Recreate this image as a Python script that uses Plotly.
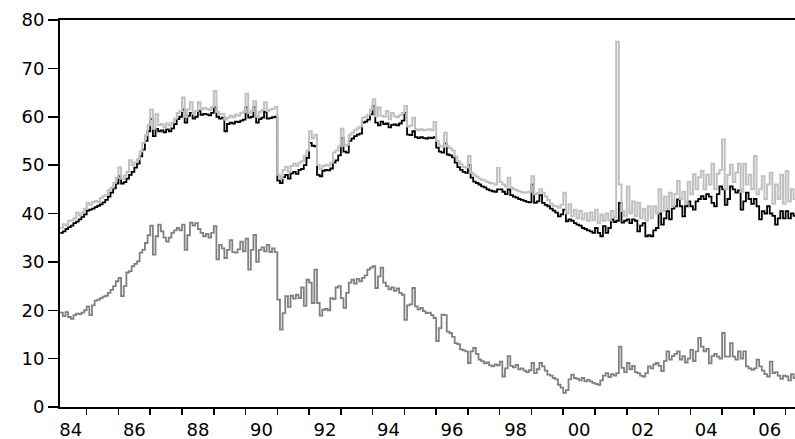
import plotly.graph_objects as go

# Monthly observations, starting March 1984
START_YEAR = 1984
START_MONTH = 3

upper_black = [
    36.0, 36.3, 36.8, 37.2, 37.5, 38.0, 38.3, 38.8, 39.3, 39.8,                  # 1984
    40.6, 40.8, 41.0, 41.3, 41.6, 41.9, 42.3, 42.8, 43.5, 44.3, 45.2, 46.2,      # 1985
    47.7, 46.2, 46.5, 47.2, 48.0, 48.6, 49.5, 50.3, 51.8, 53.2, 55.0, 57.0,      # 1986
    59.5, 56.0, 57.5, 57.0, 57.2, 56.8, 57.4, 57.0, 57.6, 58.5, 59.5, 60.0,      # 1987
    61.5, 58.8, 60.2, 60.8, 59.6, 60.0, 61.2, 60.4, 60.6, 60.5, 60.3, 60.8,      # 1988
    62.0, 60.0, 59.6, 59.8, 57.0, 58.5, 58.8, 58.6, 59.0, 58.9, 59.2, 59.4,      # 1989
    62.0, 59.8, 60.0, 62.0, 58.8, 59.5, 59.8, 61.0, 59.6, 59.7, 59.9, 60.0,      # 1990
    46.8, 46.3, 47.5, 48.0, 47.2, 48.3, 48.6, 48.2, 49.0, 49.2, 50.0, 51.5,      # 1991
    54.6, 54.0, 53.9, 48.0, 47.7, 48.8, 49.0, 48.9, 49.3, 50.5, 51.0, 52.0,      # 1992
    55.6, 52.8, 52.6, 55.0, 55.5, 56.0, 56.3, 56.5, 58.8, 59.0, 59.4, 60.5,      # 1993
    62.2, 58.8, 58.2, 59.0, 58.5, 58.6, 57.8, 58.3, 58.4, 58.2, 58.6, 59.2,      # 1994
    60.8, 56.3, 56.2, 57.0, 55.8, 55.6, 55.8, 55.6, 55.5, 55.7, 55.6, 55.8,      # 1995
    53.6, 52.8, 52.6, 54.5, 52.2, 52.0, 51.6, 50.5, 49.6, 49.0, 48.6, 48.4,      # 1996
    50.0, 47.4, 46.6, 46.3, 46.0, 45.6, 45.4, 45.0, 44.8, 44.6, 44.5, 45.0,      # 1997
    45.0, 44.5, 44.0, 45.0, 43.8, 43.5, 43.3, 43.0, 42.8, 42.6, 42.4, 42.3,      # 1998
    46.0, 42.2, 42.5, 43.8, 42.2, 41.8, 41.5, 41.0, 40.6, 40.2, 39.4, 39.8,      # 1999
    40.8, 38.4, 38.8, 38.5, 38.0, 37.7, 37.5, 37.0, 36.8, 36.5, 36.3, 36.0,      # 2000
    37.0, 36.0, 35.3, 37.4, 36.0, 37.0, 38.8, 38.2, 38.5, 42.2, 38.1, 38.5,      # 2001
    38.8, 38.0, 38.8, 38.5, 36.3, 37.5, 38.0, 35.3, 35.5, 35.3, 36.5, 37.0,      # 2002
    40.0, 37.7, 39.0, 40.5, 38.8, 41.0, 41.5, 42.9, 41.5, 39.4, 41.5, 42.5,      # 2003
    41.5, 40.8, 42.5, 43.0, 43.6, 43.0, 44.0, 43.5, 42.2, 41.5, 44.0, 45.6,      # 2004
    45.0, 41.8, 43.0, 45.6, 45.0, 44.3, 44.8, 40.8, 42.5, 44.3, 43.0, 42.0,      # 2005
    43.0, 41.5, 38.8, 40.5, 40.0, 41.5, 40.0, 39.5, 37.7, 39.0, 40.5, 39.0,      # 2006
    40.5, 39.0, 40.0, 39.5, 39.2,                                                # 2007
]

upper_gray = [
    37.0, 37.8, 37.5, 38.5, 38.6, 39.0, 40.2, 39.6, 40.2, 41.0,                  # 1984
    42.2, 41.8, 42.3, 42.6, 42.4, 43.2, 43.6, 43.8, 44.8, 45.3, 46.3, 47.4,      # 1985
    49.5, 47.2, 47.8, 48.6, 51.0, 50.0, 50.6, 51.2, 52.8, 54.6, 56.2, 58.3,      # 1986
    61.5, 57.5, 60.5, 58.3, 58.5, 57.8, 58.6, 58.2, 58.8, 59.6, 60.8, 61.2,      # 1987
    64.0, 60.0, 61.5, 63.0, 60.6, 61.2, 63.0, 61.5, 61.8, 61.6, 61.4, 62.0,      # 1988
    65.3, 61.0, 60.5, 60.6, 59.4, 59.8, 60.2, 59.9, 60.4, 60.2, 60.8, 61.0,      # 1989
    64.8, 60.8, 61.2, 63.2, 60.0, 61.0, 61.4, 63.0, 61.2, 61.5, 61.6, 62.0,      # 1990
    48.0, 47.3, 49.0, 49.6, 48.6, 49.8, 50.3, 49.8, 50.5, 50.8, 51.9, 53.0,      # 1991
    57.0, 55.5, 56.3, 50.0, 49.2, 49.8, 50.0, 49.9, 50.5, 52.6, 53.0, 53.9,      # 1992
    57.5, 54.0, 54.2, 56.3, 56.7, 57.2, 57.6, 58.0, 59.8, 60.0, 60.4, 61.5,      # 1993
    63.6, 60.1, 61.9, 60.2, 60.0, 61.2, 59.5, 60.8, 60.1, 59.9, 60.3, 60.8,      # 1994
    62.2, 58.0, 58.2, 59.8, 57.4, 57.2, 57.4, 57.2, 57.3, 57.4, 57.2, 58.9,      # 1995
    55.0, 54.0, 53.8, 56.7, 53.9, 53.5, 53.0, 51.8, 50.8, 50.2, 49.6, 49.5,      # 1996
    51.9, 48.4, 48.0, 47.6, 47.2, 47.0, 46.8, 46.5, 46.3, 46.2, 46.0, 49.4,      # 1997
    46.5, 46.0, 45.6, 47.4, 45.4, 45.0, 44.8, 44.6, 44.4, 44.3, 44.4, 44.5,      # 1998
    47.7, 44.0, 44.2, 45.0, 44.3, 43.5, 42.8, 42.0, 41.6, 41.5, 41.2, 41.8,      # 1999
    44.3, 40.0, 41.9, 39.5, 40.8, 39.0, 40.5, 38.8, 40.0, 38.5, 40.2, 38.6,      # 2000
    40.8, 38.0, 39.8, 38.5, 40.0, 38.6, 40.5, 39.2, 75.5, 46.0, 40.5, 39.5,      # 2001
    45.6, 40.0, 42.5, 39.5, 42.2, 39.0, 41.0, 38.5, 41.5, 39.0, 41.5, 40.0,      # 2002
    45.0, 40.5, 43.5, 41.0, 44.3, 41.5, 44.0, 46.7, 43.0, 44.5, 42.0, 46.5,      # 2003
    44.0, 48.1, 45.0, 47.5, 48.8, 45.0, 48.0, 46.0, 50.3, 45.0, 48.2, 49.0,      # 2004
    55.3, 45.0, 48.0, 50.1, 46.5, 48.5, 50.3, 44.5, 50.3, 46.0, 48.0, 45.0,      # 2005
    51.9, 44.0, 45.0, 47.7, 43.0, 46.0, 48.4, 42.0, 46.0, 43.0, 48.0, 42.0,      # 2006
    48.8, 42.5, 45.0, 43.0, 44.0,                                                # 2007
]

lower_series = [
    19.5, 18.8, 19.6, 18.6, 18.2, 19.0, 19.3, 19.2, 19.5, 20.0,                  # 1984
    20.8, 19.0, 21.0, 22.0, 22.2, 22.5, 22.8, 23.0, 23.6, 24.2, 25.0, 26.0,      # 1985
    26.7, 22.9, 25.0, 27.8, 28.1, 29.1, 29.6, 30.1, 31.9, 32.5, 33.9, 35.5,      # 1986
    37.5, 31.5, 35.3, 37.7, 36.3, 35.0, 34.2, 35.0, 36.0, 36.5, 37.0, 36.5,      # 1987
    37.7, 32.5, 35.5, 38.1, 37.5, 38.0, 36.8, 36.0, 35.3, 35.8, 35.0, 36.0,      # 1988
    37.4, 30.5, 33.5, 32.8, 30.8, 32.5, 34.5, 32.0, 31.9, 32.6, 34.2, 32.2,      # 1989
    34.8, 28.4, 32.5, 35.6, 30.0, 32.5, 33.0, 32.2, 33.5, 32.0, 32.8, 32.0,      # 1990
    22.2, 16.0, 19.4, 22.9, 20.7, 23.0, 22.4, 23.2, 22.5, 24.7, 20.9, 26.3,      # 1991
    25.7, 21.5, 28.4, 21.5, 18.9, 20.1, 20.3, 20.0, 22.5, 22.3, 24.7, 25.0,      # 1992
    22.5, 20.5, 23.6, 25.7, 26.3, 25.5, 26.5, 26.0, 26.7, 27.2, 28.4, 28.8,      # 1993
    29.1, 24.6, 27.0, 28.8, 25.7, 25.0, 24.3, 24.7, 24.0, 24.5, 23.6, 23.2,      # 1994
    18.0, 21.0, 21.2, 24.6, 20.8, 20.2, 20.5, 19.8, 19.4, 19.5, 19.0, 18.4,      # 1995
    13.6, 16.3, 19.1, 19.0, 15.6, 15.3, 14.5, 13.2, 13.0, 11.9, 11.7, 11.5,      # 1996
    9.1, 11.5, 12.2, 11.0, 9.8, 9.5, 9.0, 9.2, 8.6, 8.4, 8.8, 8.6,               # 1997
    9.4, 6.3, 8.0, 10.5, 8.5, 8.2, 8.7, 7.8, 8.0, 7.5, 7.2, 7.6,                 # 1998
    9.1, 7.0, 7.8, 9.1, 8.4, 7.5, 6.7, 6.5, 6.0, 5.7, 4.6, 4.0,                  # 1999
    2.9, 3.5, 5.7, 6.7, 6.0, 5.8, 5.5, 6.0, 5.3, 5.6, 5.3, 5.0,                  # 2000
    4.8, 4.6, 5.5, 6.5, 7.0, 6.2, 6.8, 6.5, 7.0, 12.5, 8.1, 7.2,                 # 2001
    9.1, 7.8, 8.5, 7.2, 7.0, 6.5, 6.3, 7.0, 8.4, 8.0, 8.8, 9.1,                  # 2002
    8.5, 7.4, 9.5, 11.5, 9.8, 10.5, 11.0, 11.5, 9.8, 10.5, 9.2, 10.0,            # 2003
    11.8, 9.5, 11.5, 14.3, 12.5, 11.5, 12.0, 9.0, 10.5, 11.0, 10.4, 10.0,        # 2004
    15.3, 10.4, 10.4, 13.2, 10.4, 9.8, 11.5, 10.0, 11.5, 8.4, 8.0, 7.7,          # 2005
    8.0, 9.8, 8.4, 7.5, 6.8, 6.3, 9.4, 7.0, 7.2, 6.5, 5.8, 6.5,                  # 2006
    6.3, 5.5, 6.8, 6.0, 6.0,                                                     # 2007
]

year_labels = ["84", "86", "88", "90", "92", "94", "96", "98", "00", "02", "04", "06"]
label_years = [1984, 1986, 1988, 1990, 1992, 1994, 1996, 1998, 2000, 2002, 2004, 2006]
y_ticks = [0, 10, 20, 30, 40, 50, 60, 70, 80]

# decimal-year position of each monthly observation
n = len(upper_black)
t = [START_YEAR + (START_MONTH - 1 + i) / 12.0 for i in range(n)]

fig = go.Figure()
fig.add_trace(go.Scatter(x=t, y=upper_black, mode="lines", line_shape="hv",
                         line=dict(color="#000000", width=1.8), showlegend=False))
fig.add_trace(go.Scatter(x=t, y=upper_gray, mode="lines", line_shape="hv",
                         line=dict(color="#c0c0c0", width=2), showlegend=False))
fig.add_trace(go.Scatter(x=t, y=lower_series, mode="lines", line_shape="hv",
                         line=dict(color="#808080", width=1.8), showlegend=False))

font = dict(family="DejaVu Sans, Arial, sans-serif", size=18, color="#000000")

fig.update_layout(
    width=795, height=439,
    margin=dict(l=60, r=0, t=20, b=32, autoexpand=False),
    paper_bgcolor="white", plot_bgcolor="white",
    font=font,
    xaxis=dict(
        range=[1984.16, 2007.295],
        automargin=False,
        showgrid=False, zeroline=False,
        showline=True, linecolor="#000000", linewidth=2, mirror=True,
        tickmode="array",
        tickvals=[y + 0.5 for y in label_years],
        ticktext=year_labels,
        ticks="outside", ticklen=5, tickcolor="rgba(0,0,0,0)",
        tickfont=font,
        minor=dict(tickmode="linear", tick0=1985, dtick=1,
                   ticks="outside", ticklen=6, tickwidth=1.5,
                   tickcolor="#000000", showgrid=False),
    ),
    yaxis=dict(
        range=[0, 80],
        automargin=False,
        showgrid=False, zeroline=False,
        showline=True, linecolor="#000000", linewidth=2,
        tickmode="array", tickvals=y_ticks,
        ticks="outside", ticklen=10, tickwidth=1.5, tickcolor="#000000",
        tickfont=font,
    ),
)

fig.write_html(
    "out.html",
    config={"displayModeBar": False, "staticPlot": True},
    post_script="document.body.style.margin='0';document.body.style.padding='0';"
                "document.body.style.overflow='hidden';",
)
